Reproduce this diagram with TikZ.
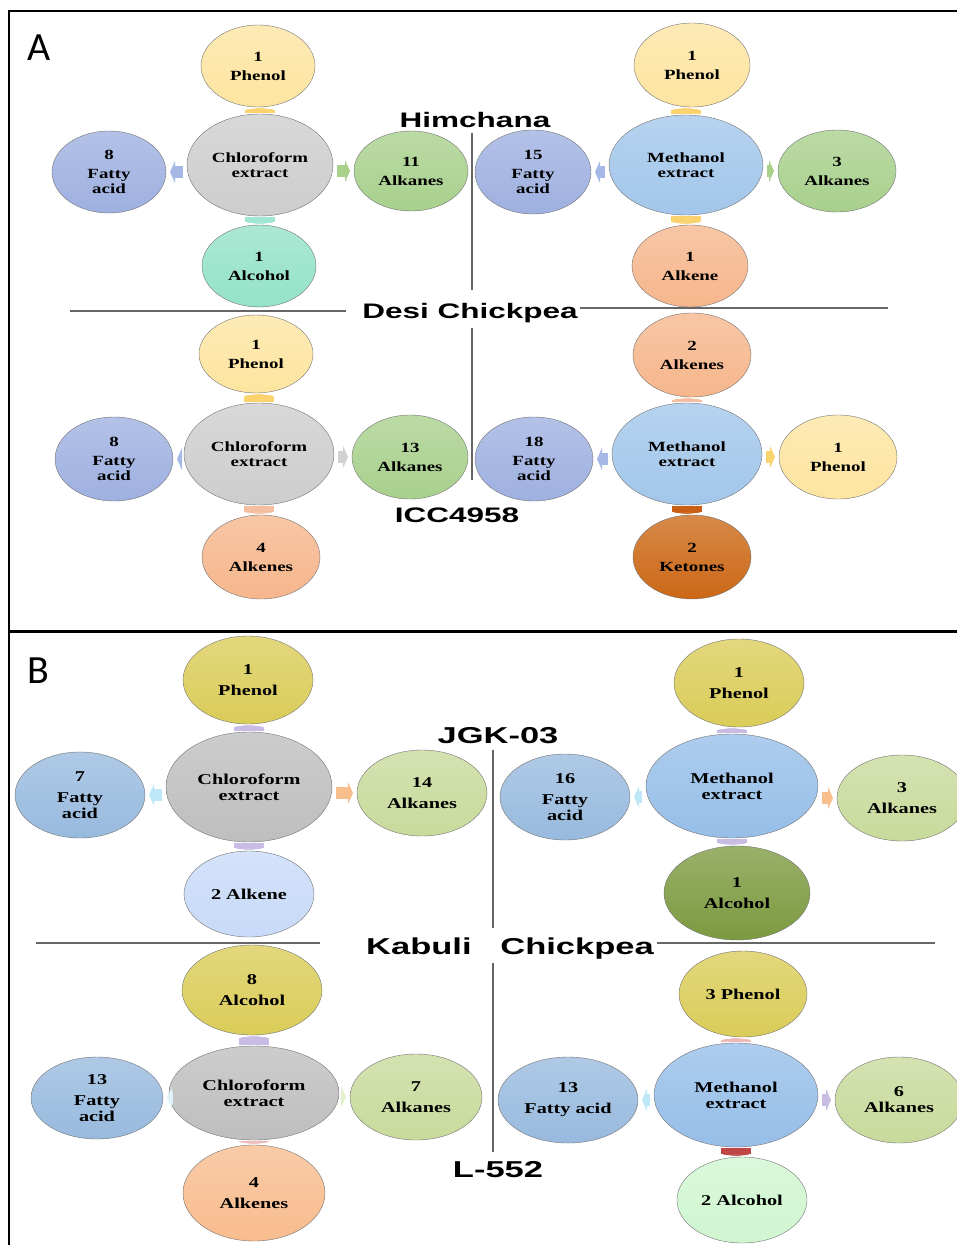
\documentclass[tikz,border=0pt]{standalone}
\usepackage{fontspec}
\usetikzlibrary{shapes.geometric,arrows.meta}
\newfontfamily\bubfont[FakeStretch=1.35]{Liberation Serif}
\newfontfamily\headfont[FakeStretch=1.5]{Liberation Sans}
\newfontfamily\tagfont{Carlito}
% bubble fills
\definecolor{phenA}{RGB}{253,228,160}
\definecolor{greyA}{RGB}{205,205,205}
\definecolor{fatA}{RGB}{158,176,224}
\definecolor{alkA}{RGB}{168,208,140}
\definecolor{alcA}{RGB}{148,226,200}
\definecolor{methA}{RGB}{162,198,234}
\definecolor{alkeA}{RGB}{246,182,140}
\definecolor{ketA}{RGB}{204,104,22}
\definecolor{phenB}{RGB}{218,204,88}
\definecolor{greyB}{RGB}{190,190,190}
\definecolor{fatB}{RGB}{152,186,222}
\definecolor{alkB}{RGB}{200,218,155}
\definecolor{alkeB}{RGB}{200,218,248}
\definecolor{methB}{RGB}{150,190,232}
\definecolor{alcB}{RGB}{124,154,64}
\definecolor{oraB}{RGB}{248,188,142}
\definecolor{alcC}{RGB}{208,246,208}
% arrow fills
\definecolor{arYel}{RGB}{250,210,110}
\definecolor{arBlu}{RGB}{166,184,230}
\definecolor{arGrn}{RGB}{168,210,140}
\definecolor{arTea}{RGB}{160,230,210}
\definecolor{arGry}{RGB}{210,210,210}
\definecolor{arOra}{RGB}{246,190,160}
\definecolor{arKet}{RGB}{200,95,20}
\definecolor{arPur}{RGB}{200,188,228}
\definecolor{arCya}{RGB}{190,232,248}
\definecolor{arPea}{RGB}{248,190,140}
\definecolor{arPnk}{RGB}{240,185,185}
\definecolor{arLim}{RGB}{228,240,205}
\definecolor{arRed}{RGB}{190,70,70}
\begin{document}
\begin{tikzpicture}[x=1pt,y=-1pt]
	\tikzset{bub/.style={ellipse, draw=black!55, line width=0.4pt, inner sep=0pt, outer sep=0pt,
	        top color=#1!78!white, bottom color=#1, align=center},
	    txtA/.style={font=\bubfont\bfseries\fontsize{14}{15}\selectfont},
	    txtB/.style={font=\bubfont\bfseries\fontsize{15}{16}\selectfont},
	    head/.style={anchor=base, inner sep=1pt, font=\headfont\bfseries\fontsize{21}{24}\selectfont},
	    headB/.style={head, font=\headfont\bfseries\fontsize{23}{26}\selectfont},
	    hflow/.style={draw=#1, line width=12pt, -{Triangle[length=5pt,width=22pt]}, shorten <=4pt, shorten >=4pt},
	    vflow/.style={draw=#1, line width=30pt, -{Triangle[length=2pt,width=34pt]}, shorten <=1pt, shorten >=1pt},
	    divider/.style={draw=black!60, line width=1.2pt}
	}
	\useasboundingbox (0,0) rectangle (957,1245);
	% frames
	\draw[line width=2pt] (9,1250) -- (9,11) -- (962,11);
	\draw[line width=3pt] (9,631) -- (962,631);
	\node[anchor=base west, inner sep=0pt, font=\tagfont\fontsize{40}{40}\selectfont] (tagA) at (27,60) {A};
	\node[anchor=base west, inner sep=0pt, font=\tagfont\fontsize{40}{40}\selectfont] (tagB) at (27,683) {B};

	% ---------- A : Desi chickpea ----------
	\node[head] (himA) at (475,127) {Himchana};
	\node[head] (desiA) at (470,318) {Desi Chickpea};
	\node[head] (iccA) at (457,522) {ICC4958};
	\draw[divider] (472,133) -- (472,290);
	\draw[divider] (472,328) -- (472,480);
	\draw[divider] (70,311) -- (346,311);
	\draw[divider] (580,308) -- (888,308);

	\node[bub=greyA, txtA, minimum width=146pt, minimum height=102pt] (a1c) at (260,165) {Chloroform\\extract};
	\node[bub=phenA, txtA, minimum width=114pt, minimum height=82pt] (a1t) at (258,66) {1\\[4pt]Phenol};
	\node[bub=fatA, txtA, minimum width=114pt, minimum height=82pt] (a1l) at (109,172) {8\\[4pt]Fatty\\acid};
	\node[bub=alkA, txtA, minimum width=114pt, minimum height=80pt] (a1r) at (411,171) {11\\[4pt]Alkanes};
	\node[bub=alcA, txtA, minimum width=114pt, minimum height=82pt] (a1b) at (259,266) {1\\[4pt]Alcohol};
	\draw[vflow=arYel] (a1c.north) -- (a1c.north |- a1t.south);
	\draw[vflow=arTea] (a1c.south) -- (a1c.south |- a1b.north);
	\draw[hflow=arBlu] (a1l.east -| a1c.west) -- (a1l.east);
	\draw[hflow=arGrn] (a1r.west -| a1c.east) -- (a1r.west);

	\node[bub=methA, txtA, minimum width=154pt, minimum height=100pt] (a2c) at (686,165) {Methanol\\extract};
	\node[bub=phenA, txtA, minimum width=116pt, minimum height=84pt] (a2t) at (692,65) {1\\[4pt]Phenol};
	\node[bub=fatA, txtA, minimum width=116pt, minimum height=84pt] (a2l) at (533,172) {15\\[4pt]Fatty\\acid};
	\node[bub=alkA, txtA, minimum width=118pt, minimum height=82pt] (a2r) at (837,171) {3\\[4pt]Alkanes};
	\node[bub=alkeA, txtA, minimum width=116pt, minimum height=82pt] (a2b) at (690,266) {1\\[4pt]Alkene};
	\draw[vflow=arYel] (a2c.north) -- (a2c.north |- a2t.south);
	\draw[vflow=arYel] (a2c.south) -- (a2c.south |- a2b.north);
	\draw[hflow=arBlu] (a2l.east -| a2c.west) -- (a2l.east);
	\draw[hflow=arGrn] (a2r.west -| a2c.east) -- (a2r.west);

	\node[bub=greyA, txtA, minimum width=150pt, minimum height=102pt] (a3c) at (259,454) {Chloroform\\extract};
	\node[bub=phenA, txtA, minimum width=114pt, minimum height=78pt] (a3t) at (256,354) {1\\[4pt]Phenol};
	\node[bub=fatA, txtA, minimum width=118pt, minimum height=84pt] (a3l) at (114,459) {8\\[4pt]Fatty\\acid};
	\node[bub=alkA, txtA, minimum width=116pt, minimum height=84pt] (a3r) at (410,457) {13\\[4pt]Alkanes};
	\node[bub=alkeA, txtA, minimum width=118pt, minimum height=84pt] (a3b) at (261,557) {4\\[4pt]Alkenes};
	\draw[vflow=arYel] (a3c.north) -- (a3c.north |- a3t.south);
	\draw[vflow=arOra] (a3c.south) -- (a3c.south |- a3b.north);
	\draw[hflow=arBlu] (a3l.east -| a3c.west) -- (a3l.east);
	\draw[hflow=arGry] (a3r.west -| a3c.east) -- (a3r.west);

	\node[bub=methA, txtA, minimum width=150pt, minimum height=102pt] (a4c) at (687,454) {Methanol\\extract};
	\node[bub=alkeA, txtA, minimum width=118pt, minimum height=84pt] (a4t) at (692,355) {2\\[4pt]Alkenes};
	\node[bub=fatA, txtA, minimum width=118pt, minimum height=84pt] (a4l) at (534,459) {18\\[4pt]Fatty\\acid};
	\node[bub=phenA, txtA, minimum width=118pt, minimum height=84pt] (a4r) at (838,457) {1\\[4pt]Phenol};
	\node[bub=ketA, txtA, minimum width=118pt, minimum height=84pt] (a4b) at (692,557) {2\\[4pt]Ketones};
	\draw[vflow=arOra] (a4c.north) -- (a4c.north |- a4t.south);
	\draw[vflow=arKet] (a4c.south) -- (a4c.south |- a4b.north);
	\draw[hflow=arBlu] (a4l.east -| a4c.west) -- (a4l.east);
	\draw[hflow=arYel] (a4r.west -| a4c.east) -- (a4r.west);

	% ---------- B : Kabuli chickpea ----------
	\node[headB] (jgkB) at (498,743) {JGK-03};
	\node[headB] (kabB) at (510,954) {Kabuli\ \ \ Chickpea};
	\node[headB] (lB) at (498,1177) {L-552};
	\draw[divider] (493,750) -- (493,928);
	\draw[divider] (493,963) -- (493,1152);
	\draw[divider] (36,943) -- (320,943);
	\draw[divider] (657,943) -- (935,943);

	\node[bub=greyB, txtB, minimum width=166pt, minimum height=110pt] (b1c) at (249,787) {Chloroform\\extract};
	\node[bub=phenB, txtB, minimum width=130pt, minimum height=88pt] (b1t) at (248,680) {1\\[5pt]Phenol};
	\node[bub=fatB, txtB, minimum width=130pt, minimum height=86pt] (b1l) at (80,795) {7\\[5pt]Fatty\\acid};
	\node[bub=alkB, txtB, minimum width=130pt, minimum height=86pt] (b1r) at (422,793) {14\\[5pt]Alkanes};
	\node[bub=alkeB, txtB, minimum width=130pt, minimum height=86pt] (b1b) at (249,894) {2 Alkene};
	\draw[vflow=arPur] (b1c.north) -- (b1c.north |- b1t.south);
	\draw[vflow=arPur] (b1c.south) -- (b1c.south |- b1b.north);
	\draw[hflow=arCya] (b1l.east -| b1c.west) -- (b1l.east);
	\draw[hflow=arPea] (b1r.west -| b1c.east) -- (b1r.west);

	\node[bub=methB, txtB, minimum width=172pt, minimum height=104pt] (b2c) at (732,786) {Methanol\\extract};
	\node[bub=phenB, txtB, minimum width=130pt, minimum height=88pt] (b2t) at (739,683) {1\\[5pt]Phenol};
	\node[bub=fatB, txtB, minimum width=130pt, minimum height=86pt] (b2l) at (565,797) {16\\[5pt]Fatty\\acid};
	\node[bub=alkB, txtB, minimum width=130pt, minimum height=86pt] (b2r) at (902,798) {3\\[5pt]Alkanes};
	\node[bub=alcB, txtB, minimum width=146pt, minimum height=94pt] (b2b) at (737,893) {1\\[5pt]Alcohol};
	\draw[vflow=arPur] (b2c.north) -- (b2c.north |- b2t.south);
	\draw[vflow=arPur] (b2c.south) -- (b2c.south |- b2b.north);
	\draw[hflow=arCya] (b2l.east -| b2c.west) -- (b2l.east);
	\draw[hflow=arPea] (b2r.west -| b2c.east) -- (b2r.west);

	\node[bub=greyB, txtB, minimum width=170pt, minimum height=94pt] (b3c) at (254,1093) {Chloroform\\extract};
	\node[bub=phenB, txtB, minimum width=140pt, minimum height=90pt] (b3t) at (252,990) {8\\[5pt]Alcohol};
	\node[bub=fatB, txtB, minimum width=132pt, minimum height=82pt] (b3l) at (97,1098) {13\\[5pt]Fatty\\acid};
	\node[bub=alkB, txtB, minimum width=132pt, minimum height=86pt] (b3r) at (416,1097) {7\\[5pt]Alkanes};
	\node[bub=oraB, txtB, minimum width=142pt, minimum height=96pt] (b3b) at (254,1193) {4\\[5pt]Alkenes};
	\draw[vflow=arPur] (b3c.north) -- (b3c.north |- b3t.south);
	\draw[vflow=arPnk] (b3c.south) -- (b3c.south |- b3b.north);
	\draw[hflow=arCya!50!white] (b3l.east -| b3c.west) -- (b3l.east);
	\draw[hflow=arLim] (b3r.west -| b3c.east) -- (b3r.west);

	\node[bub=methB, txtB, minimum width=164pt, minimum height=104pt] (b4c) at (736,1095) {Methanol\\extract};
	\node[bub=phenB, txtB, minimum width=128pt, minimum height=86pt] (b4t) at (743,994) {3 Phenol};
	\node[bub=fatB, txtB, minimum width=140pt, minimum height=86pt] (b4l) at (568,1100) {13\\[5pt]Fatty acid};
	\node[bub=alkB, txtB, minimum width=128pt, minimum height=86pt] (b4r) at (899,1100) {6\\Alkanes};
	\node[bub=alcC, txtB, minimum width=130pt, minimum height=86pt] (b4b) at (742,1200) {2 Alcohol};
	\draw[vflow=arPnk] (b4c.north) -- (b4c.north |- b4t.south);
	\draw[vflow=arRed] (b4c.south) -- (b4c.south |- b4b.north);
	\draw[hflow=arCya] (b4l.east -| b4c.west) -- (b4l.east);
	\draw[hflow=arPur] (b4r.west -| b4c.east) -- (b4r.west);
\end{tikzpicture}
\end{document}
